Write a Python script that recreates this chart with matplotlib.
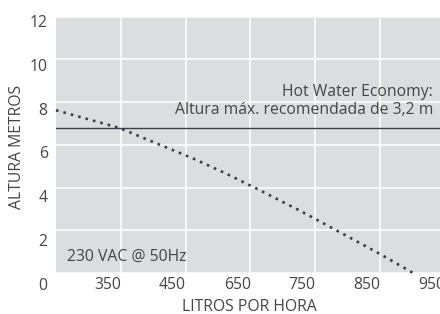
import matplotlib
matplotlib.use("Agg")
import matplotlib.pyplot as plt
import matplotlib.transforms as mtransforms

plt.rcParams['font.family'] = ['Open Sans', 'DejaVu Sans']

# datos
caudal = [250, 347, 464, 512, 557, 625, 682, 750, 801]
altura = [7.62, 6.80, 5.33, 4.66, 3.99, 2.94, 2.01, 0.89, 0.0]
limite = 6.8
x_ticks = [350, 450, 550, 650, 750, 850]
x_labels = ["350", "450", "650", "750", "850", "950"]
y_ticks = [0, 2, 4, 6, 8, 10, 12]
y_labels = ["0", "2", "4", "6", "8", "10", "12"]

texto_c = "#454545"
fondo = "#dcdddf"
linea = "#3a3f4e"
fs = 11.3

fig = plt.figure(figsize=(4.4, 3.14), dpi=100)
W, H = 440, 314
ax = fig.add_axes([56 / W, 41 / H, 395.3 / W, 256.3 / H])
ax.set_facecolor(fondo)
for s in ax.spines.values():
    s.set_visible(False)

ax.set_xlim(250, 860)
ax.set_ylim(0, 12)
ax.set_xticks(x_ticks)
ax.set_xticklabels(x_labels)
ax.set_yticks(y_ticks)
ax.set_yticklabels(y_labels)
ax.grid(True, color="white", linewidth=1.1)
ax.set_axisbelow(True)
ax.tick_params(length=0, labelsize=fs, labelcolor=texto_c)
ax.tick_params(axis='x', pad=3)
ax.tick_params(axis='y', pad=6)

# etiquetas x corridas a la izquierda
for lab in ax.get_xticklabels():
    lab.set_transform(lab.get_transform() + mtransforms.ScaledTranslation(-13 / 100, 0, fig.dpi_scale_trans))
# etiquetas y un poco mas abajo
for v, lab in zip(y_ticks, ax.get_yticklabels()):
    dy = 4 + 0.6 * (12 - v)
    lab.set_transform(lab.get_transform() + mtransforms.ScaledTranslation(0, -dy / 100, fig.dpi_scale_trans))

ax.axhline(limite, color=linea, linewidth=1.0)
ax.plot(caudal, altura, color=linea, linewidth=1.9, linestyle=(0, (1, 1.9)), clip_on=False)

ax.text(433 / W, 1 - 92 / H, "Hot Water Economy:", transform=fig.transFigure,
        ha="right", va="center", fontsize=fs, color=texto_c)
ax.text(433 / W, 1 - 110 / H, "Altura máx. recomendada de 3,2 m", transform=fig.transFigure,
        ha="right", va="center", fontsize=fs, color=texto_c)
ax.text(67 / W, 1 - 257 / H, "230 VAC @ 50Hz", transform=fig.transFigure,
        ha="left", va="center", fontsize=fs, color=texto_c)

fig.text(17 / W, 1 - 146.5 / H, "ALTURA METROS", rotation=90, ha="center", va="center",
         fontsize=fs, color=texto_c)
fig.text(249.5 / W, 1 - 307 / H, "LITROS POR HORA", ha="center", va="center",
         fontsize=fs, color=texto_c)

fig.savefig("out.png", dpi=100)
